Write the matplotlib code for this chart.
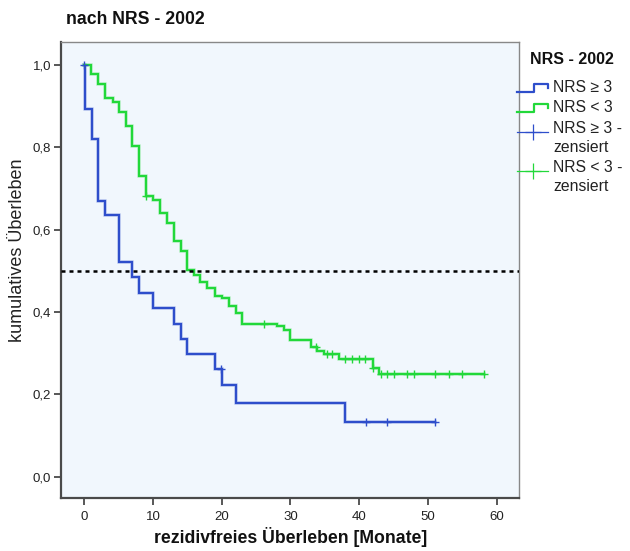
import numpy as np
import matplotlib
matplotlib.use("Agg")
import matplotlib.pyplot as plt
from matplotlib.lines import Line2D

plt.rcParams['font.family'] = ['Liberation Sans', 'DejaVu Sans']

# Kaplan-Meier estimates: event times (months) and survival after each drop
high_times = [0.1, 1.1, 2.0, 3.0, 5.0, 7.0, 8.0, 10.0, 13.0, 14.0, 15.0, 19.0, 20.1, 22.1, 38.0]
high_surv = [0.892, 0.819, 0.669, 0.635, 0.522, 0.484, 0.447, 0.410, 0.372, 0.334,
             0.298, 0.261, 0.224, 0.180, 0.133]
high_censored = [0.0, 19.9, 41.0, 44.0, 51.0]
high_end = 51.0

low_times = [1.0, 2.0, 3.0, 4.1, 5.05, 6.0, 7.0, 8.0, 9.0, 10.0, 11.0, 12.0, 13.0, 14.0,
             15.0, 16.0, 16.8, 17.9, 19.0, 20.0, 21.0, 22.0, 23.0, 28.0, 29.0, 30.0,
             33.0, 33.8, 34.9, 37.0, 42.0, 42.9]
low_surv = [0.977, 0.952, 0.918, 0.910, 0.886, 0.852, 0.803, 0.730, 0.681, 0.672, 0.639,
            0.615, 0.572, 0.548, 0.503, 0.490, 0.473, 0.457, 0.439, 0.433, 0.415, 0.397,
            0.372, 0.367, 0.356, 0.332, 0.316, 0.306, 0.297, 0.287, 0.263, 0.249]
low_censored = [9.0, 26.1, 33.7, 35.3, 36.0, 37.9, 38.9, 40.0, 40.9, 42.0, 43.1, 44.0,
                45.0, 47.0, 48.0, 51.0, 53.0, 55.0, 58.1]
low_end = 58.1

median_level = 0.5

x_ticks = [0, 10, 20, 30, 40, 50, 60]
y_ticks = [0.0, 0.2, 0.4, 0.6, 0.8, 1.0]
y_ticklabels = ["0,0", "0,2", "0,4", "0,6", "0,8", "1,0"]

legend_title = "NRS - 2002"
labels = ["NRS \u2265 3", "NRS < 3", "NRS \u2265 3 -\nzensiert", "NRS < 3 -\nzensiert"]

BLUE = "#2e4ecb"
GREEN = "#22d83a"
BG = "#f1f7fd"
SPINE = "#4a4a4a"
W, H = 630, 551


def step_xy(times, surv, end):
    xs, ys = [0.0], [1.0]
    for t, s in zip(times, surv):
        xs += [t, t]
        ys += [ys[-1], s]
    xs.append(end)
    ys.append(ys[-1])
    return xs, ys


def surv_at(times, surv, t):
    val = 1.0
    for ti, si in zip(times, surv):
        if ti <= t + 1e-9:
            val = si
    return val


def fx(px):
    return px / W


def fy(py):
    return 1 - py / H


fig = plt.figure(figsize=(W / 100, H / 100), dpi=100)
ax = fig.add_axes([fx(61), fy(498.3), fx(519.3) - fx(61), fy(42) - fy(498.3)])
ax.set_facecolor(BG)

for times, surv, end, cens, col in [
    (high_times, high_surv, high_end, high_censored, BLUE),
    (low_times, low_surv, low_end, low_censored, GREEN),
]:
    xs, ys = step_xy(times, surv, end)
    ax.plot(xs, ys, color=col, lw=2.6, alpha=0.22, solid_joinstyle="miter", zorder=2)
    ax.plot(xs, ys, color=col, lw=1.6, solid_joinstyle="miter", zorder=3)
    cy = [surv_at(times, surv, c) for c in cens]
    ax.plot(cens, cy, linestyle="none", marker="+", markersize=5.5,
            markeredgewidth=1.0, color=col, zorder=4)

ax.axhline(median_level, color="black", lw=1.8, linestyle=(0, (1.6, 1.6)), zorder=5)

ax.set_xlim(-3.4, 63.3)
ax.set_ylim(-0.052, 1.055)
ax.set_xticks(x_ticks)
ax.set_yticks(y_ticks)
ax.set_yticklabels(y_ticklabels)
ax.tick_params(axis="both", direction="out", length=5, width=1.3, color=SPINE,
               labelsize=9.5, labelcolor="#222222", pad=2)
ax.tick_params(axis="x", pad=4)
for side in ["left", "bottom"]:
    ax.spines[side].set_color(SPINE)
    ax.spines[side].set_linewidth(1.6)
for side in ["right", "top"]:
    ax.spines[side].set_color("#888888")
    ax.spines[side].set_linewidth(1.0)

ax.set_xlabel("rezidivfreies \u00dcberleben [Monate]", fontsize=12.7, fontweight="bold",
              color="#111111", labelpad=3)

fig.text(fx(18), fy(250), "kumulatives \u00dcberleben", fontsize=13, color="#222222",
         rotation=90, ha="center", va="center")

fig.text(fx(66), fy(20), "nach NRS - 2002", fontsize=12.7, fontweight="bold",
         color="#111111", ha="left", va="center")

# legend block to the right of the plot
fig.text(fx(530), fy(60), legend_title, fontsize=11.5, fontweight="bold",
         color="#111111", ha="left", va="center")
row_y = [88, 108, 129, 168]
colors = [BLUE, GREEN, BLUE, GREEN]
hx0, hx1 = 517, 548
for i, (lab, col, ry) in enumerate(zip(labels, colors, row_y)):
    fig.text(fx(553), fy(ry - 8), lab, fontsize=11.3, color="#222222", ha="left",
             va="top", linespacing=1.32)
    if i < 2:
        xs = [hx0, hx0 + 17, hx0 + 17, hx1, hx1]
        ys = [ry + 4, ry + 4, ry - 4, ry - 4, ry]
        fig.add_artist(Line2D([fx(v) for v in xs], [fy(v) for v in ys], color=col,
                              lw=1.6, transform=fig.transFigure))
    else:
        cy = ry + 3
        fig.add_artist(Line2D([fx(hx0), fx(hx1)], [fy(cy), fy(cy)], color=col,
                              lw=0.9, transform=fig.transFigure))
        fig.add_artist(Line2D([fx((hx0 + hx1) / 2)], [fy(cy)], color=col,
                              marker="+", markersize=11, markeredgewidth=0.9,
                              transform=fig.transFigure))

fig.savefig("out.png", dpi=100)
